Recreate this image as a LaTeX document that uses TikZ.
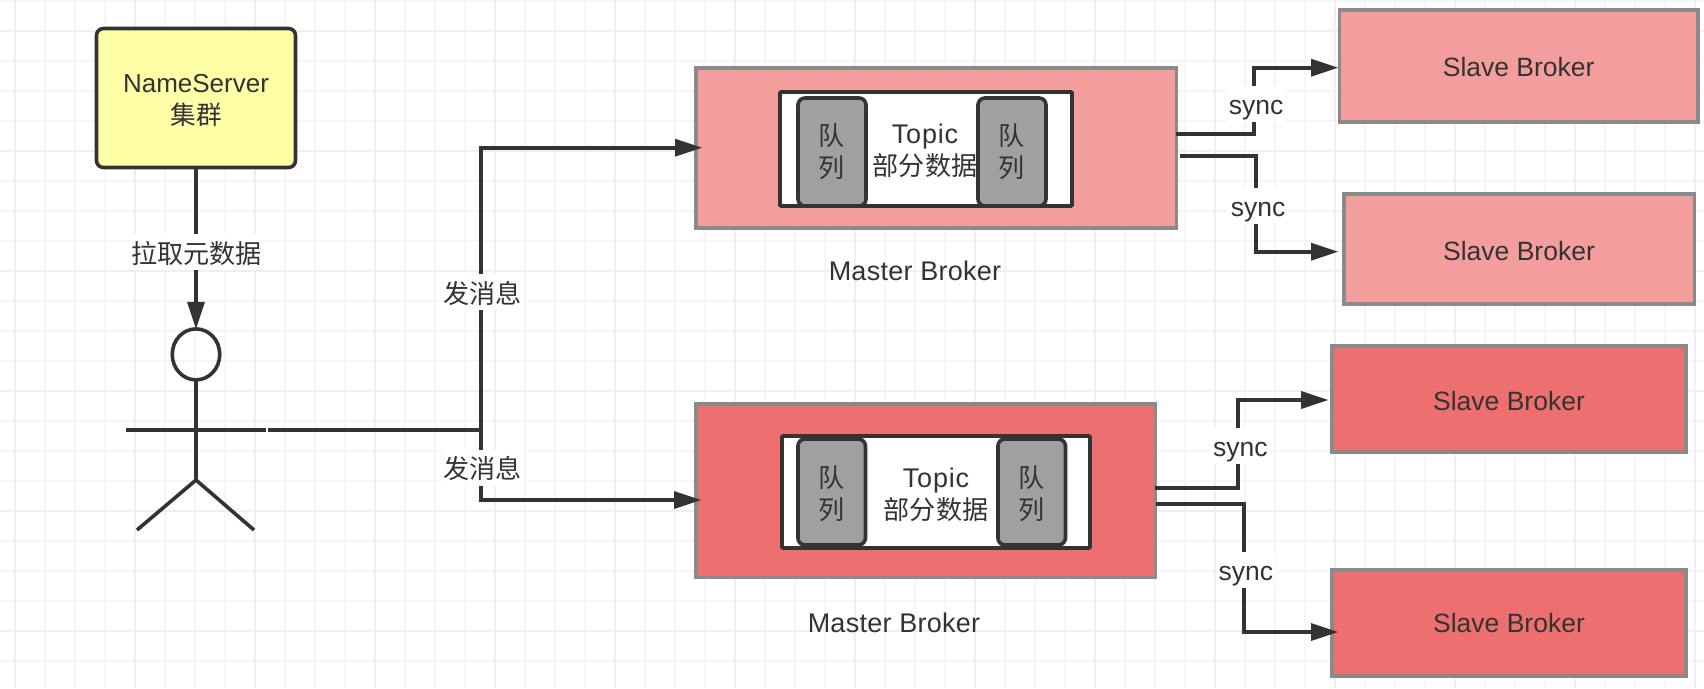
\documentclass[tikz,border=0pt]{standalone}
\usepackage{fontspec}
\setmainfont{Liberation Sans}
\newfontfamily\cjk[Scale=0.985]{Noto Sans CJK SC}
\newfontfamily\widelatin[LetterSpace=3]{Liberation Sans}
\newfontfamily\capfont[LetterSpace=1]{Liberation Sans}
\usetikzlibrary{arrows.meta,shapes.geometric}
\definecolor{ink}{HTML}{333333}
\definecolor{edgegray}{HTML}{8A8A8A}
\definecolor{pinklight}{HTML}{F39D9C}
\definecolor{pinkdark}{HTML}{EE6F6F}
\definecolor{nameyellow}{HTML}{FFFFA8}
\definecolor{queuegray}{HTML}{A0A0A0}
\definecolor{gridmajor}{HTML}{EFEFEF}
\definecolor{gridminor}{HTML}{F6F6F6}
\tikzset{
  every node/.style={text=ink,font=\fontsize{26.5}{32}\selectfont,inner sep=0pt,outer sep=0pt},
  broker/.style={draw=edgegray,line width=3.6pt,rectangle},
  topicbox/.style={draw=ink,fill=white,line width=3.6pt,rounded corners=1pt},
  queuebox/.style={draw=ink,fill=queuegray,line width=3.6pt,rounded corners=7pt,align=center},
  conn/.style={draw=ink,line width=3.6pt},
  arrowconn/.style={conn,-{Triangle[length=27pt,width=18pt,line width=0pt,sep=0pt]}},
  lbl/.style={fill=white,align=center},
  synclbl/.style={lbl,minimum width=58pt,minimum height=36pt,text height=26pt,text depth=6pt},
  actorline/.style={draw=ink,line width=3.6pt},
}
\begin{document}
\begin{tikzpicture}[x=1pt,y=-1pt]
\useasboundingbox (0,0) rectangle (1704,688);
\fill[white] (0,0) rectangle (1704,688);
% grid
\foreach \gx in {15,45,...,1695} \draw[gridminor,line width=1.6pt] (\gx,0) -- (\gx,688);
\foreach \gy in {0.7,30.7,...,688} \draw[gridminor,line width=1.6pt] (0,\gy) -- (1704,\gy);
\foreach \gx in {15,135,...,1695} \draw[gridmajor,line width=2pt] (\gx,0) -- (\gx,688);
\foreach \gy in {30.7,150.7,...,688} \draw[gridmajor,line width=2pt] (0,\gy) -- (1704,\gy);

% NameServer
\node[draw=ink,fill=nameyellow,line width=3.6pt,rounded corners=7pt,minimum width=199pt,minimum height=139pt] (ns) at (196,98) {};
\node[align=center,font=\fontsize{26}{32}\selectfont] (nstxt) at (196,100.2) {NameServer\\{\cjk 集群}};

% actor
\node[draw=ink,line width=3.6pt,ellipse,minimum width=47.5pt,minimum height=51pt] (head) at (196,354.4) {};
\coordinate (neck) at (196,380);
\coordinate (hip) at (196,480);
\coordinate (armL) at (126,430);
\coordinate (armR) at (266,430);
\coordinate (footL) at (137,530);
\coordinate (footR) at (254,530);
\draw[actorline] (neck) -- (hip);
\draw[actorline] (armL) -- (armR);
\draw[actorline] (footL) -- (hip) -- (footR);

% brokers
\node[broker,fill=pinklight,minimum width=480.5pt,minimum height=160pt] (m1) at (936.2,148) {};
\node[broker,fill=pinkdark,minimum width=459.5pt,minimum height=173.5pt] (m2) at (925.7,490.7) {};
\node[broker,fill=pinklight,minimum width=358.5pt,minimum height=112pt,text height=20.5pt] (s1) at (1518.7,66) {Slave Broker};
\node[broker,fill=pinklight,minimum width=350.6pt,minimum height=110pt,text height=22.5pt] (s2) at (1519,249) {Slave Broker};
\node[broker,fill=pinkdark,minimum width=354pt,minimum height=106pt,text height=23pt] (s3) at (1509,399) {Slave Broker};
\node[broker,fill=pinkdark,minimum width=354pt,minimum height=106pt,text height=19pt] (s4) at (1509,623) {Slave Broker};

% master 1 contents
\node[topicbox,minimum width=292pt,minimum height=114pt] (t1) at (926,149) {};
\node[queuebox,minimum width=68pt,minimum height=108pt] (q1a) at (832,152) {{\cjk 队}\\{\cjk 列}};
\node[queuebox,minimum width=68pt,minimum height=108pt] (q1b) at (1012,152) {{\cjk 队}\\{\cjk 列}};
\node[align=center] (t1txt) at (925,150.3) {\fontsize{27}{32}\selectfont\widelatin Topic\\{\cjk 部分数据}};
\node[font=\fontsize{27}{32}\selectfont\capfont] (m1cap) at (915,271) {Master Broker};

% master 2 contents
\node[topicbox,minimum width=308pt,minimum height=112pt] (t2) at (936,492) {};
\node[queuebox,minimum width=67.5pt,minimum height=106pt] (q2a) at (831.7,492) {};
\node[queuebox,minimum width=67.5pt,minimum height=106pt] (q2b) at (1031.7,492) {};
\node[align=center] (q2atxt) at (832,494) {{\cjk 队}\\{\cjk 列}};
\node[align=center] (q2btxt) at (1032,494) {{\cjk 队}\\{\cjk 列}};
\node[align=center] (t2txt) at (936,494.3) {\fontsize{27}{32}\selectfont\widelatin Topic\\{\cjk 部分数据}};
\node[font=\fontsize{27}{32}\selectfont\capfont] (m2cap) at (894,623) {Master Broker};

% named connector ends
\coordinate (sendstart) at (268,430);
\coordinate (branch) at (481,430);
\coordinate (m1in) at (702,147.7);
\coordinate (m2in) at (701,500);
\coordinate (s1out) at (1176,134);
\coordinate (s2out) at (1180,155.7);
\coordinate (s3out) at (1154.5,487.7);
\coordinate (s4out) at (1156,503.7);
\coordinate (s1in) at (1338,67.7);
\coordinate (s2in) at (1338,251.7);
\coordinate (s3in) at (1328,400);
\coordinate (s4in) at (1338,632);
\coordinate (s1bend) at (1254,0);
\coordinate (s2bend) at (1256,0);
\coordinate (s3bend) at (1238,0);
\coordinate (s4bend) at (1244,0);

% connectors
\draw[arrowconn] (ns.south) -- (head.north);
\draw[conn] (sendstart) -- (branch);
\draw[arrowconn] (branch) |- (m1in);
\draw[arrowconn] (branch) |- (m2in);
\draw[arrowconn] (s1out) -| (s1bend |- s1in) -- (s1in);
\draw[arrowconn] (s2out) -| (s2bend |- s2in) -- (s2in);
\draw[arrowconn] (s3out) -| (s3bend |- s3in) -- (s3in);
\draw[arrowconn] (s4out) -| (s4bend |- s4in) -- (s4in);

% connector labels
\node[lbl,minimum width=134pt,minimum height=36pt,text height=26pt] (pull) at (196.7,252) {\cjk 拉取元数据};
\node[lbl,minimum width=82pt,minimum height=36pt,text height=24.5pt] (send1) at (482.5,292) {\cjk 发消息};
\node[lbl,minimum width=82pt,minimum height=36pt,text height=24pt] (send2) at (482.5,468) {\cjk 发消息};
\node[synclbl] (sync1) at (1256,104) {sync};
\node[synclbl] (sync2) at (1258,206) {sync};
\node[synclbl] (sync3) at (1240.4,446) {sync};
\node[synclbl] (sync4) at (1245.8,570) {sync};
\end{tikzpicture}
\end{document}
